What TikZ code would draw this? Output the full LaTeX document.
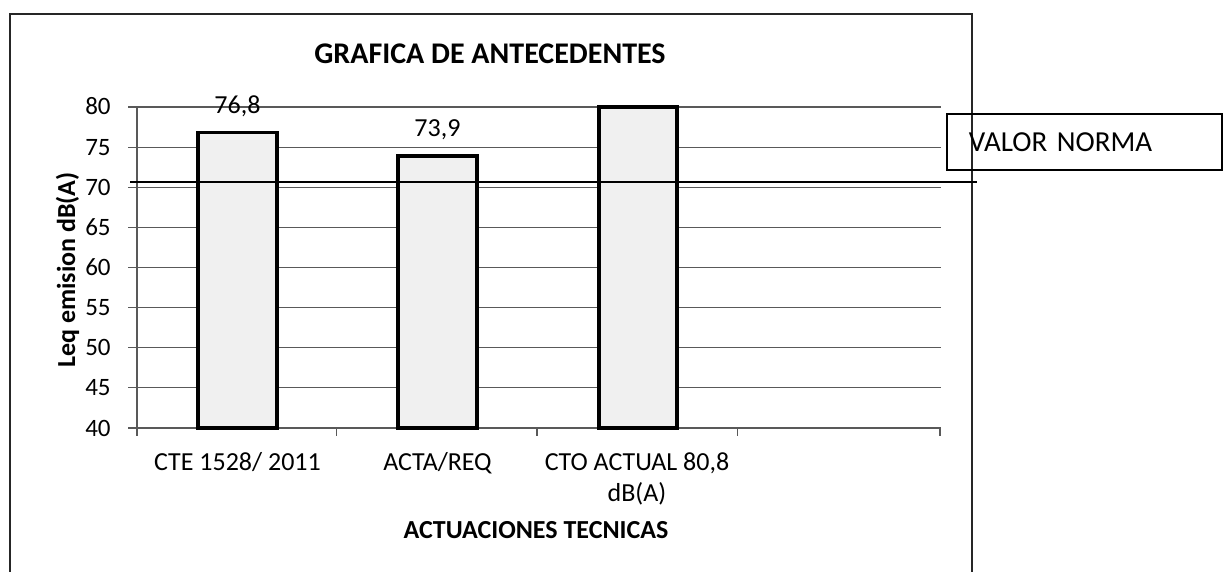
\documentclass[tikz,border=0pt]{standalone}
\usepackage{fontspec}
\setmainfont{Carlito}
\begin{document}
\begin{tikzpicture}[x=0.5pt,y=-0.5pt,
  gridline/.style={draw=black!65,line width=0.6pt},
  barbox/.style={draw=black,line width=1.8pt,fill=black!6},
  ticklab/.style={font=\fontsize{12.5}{14}\selectfont,anchor=base east,inner sep=0pt},
  catlab/.style={font=\fontsize{13}{15}\selectfont,anchor=base,inner sep=0pt},
  datalab/.style={font=\fontsize{13}{15}\selectfont,anchor=base,inner sep=0pt},
  axtitle/.style={font=\bfseries\fontsize{13}{15}\selectfont,anchor=base,inner sep=0pt}]
\useasboundingbox (0,0) rectangle (1225,572);
\fill[white] (0,0) rectangle (1225,572);
% outer frame
\draw[line width=1pt,black!85] (10,572) -- (10,14) -- (972,14) -- (972,572);
% title
\node[font=\bfseries\fontsize{15}{18}\selectfont,anchor=base,inner sep=0pt] (title) at (490,64) {GRAFICA DE ANTECEDENTES};
% gridlines and tick labels
\foreach \v in {40,45,...,80}{
  \pgfmathsetmacro\yy{428-(\v-40)*8.025}
  \draw[gridline] (128,\yy) -- (941,\yy);
  \node[ticklab] (t\v) at (111,{\yy+8}) {\v};
}
% axes
\draw[gridline] (137,107) -- (137,436);
\foreach \xx in {336.5,537,737.5,940}{
  \draw[gridline] (\xx,428) -- (\xx,436);
}
% bars
\draw[barbox] (198,428) rectangle (277,132.7);
\draw[barbox] (398,428) rectangle (477,156);
\draw[barbox] (599,428) rectangle (677,107);
% data labels
\node[datalab] (d1) at (237.5,114) {76,8};
\node[datalab] (d2) at (437.5,137) {73,9};
% norma line
\coordinate (nl) at (130,182);
\coordinate (nr) at (977,182);
\draw[line width=1.1pt,black] (nl) -- (nr);
% category labels
\node[catlab] (c1) at (237.5,470) {CTE 1528/ 2011};
\node[catlab] (c2) at (437.5,470) {ACTA/REQ};
\node[catlab] (c3) at (637,470) {CTO ACTUAL 80,8};
\node[catlab] (c3b) at (637,501) {dB(A)};
% axis titles
\node[axtitle] (xt) at (536,538) {ACTUACIONES TECNICAS};
\node[axtitle,rotate=90] (yt) at (75,270) {Leq emision dB(A)};
% legend box
\node[draw,line width=0.9pt,anchor=north west,minimum height=28pt,inner xsep=11pt,text width=115.5pt,align=left,font=\fontsize{14.5}{17}\selectfont] (norma) at (946,113) {VALOR NORMA};
\end{tikzpicture}
\end{document}
